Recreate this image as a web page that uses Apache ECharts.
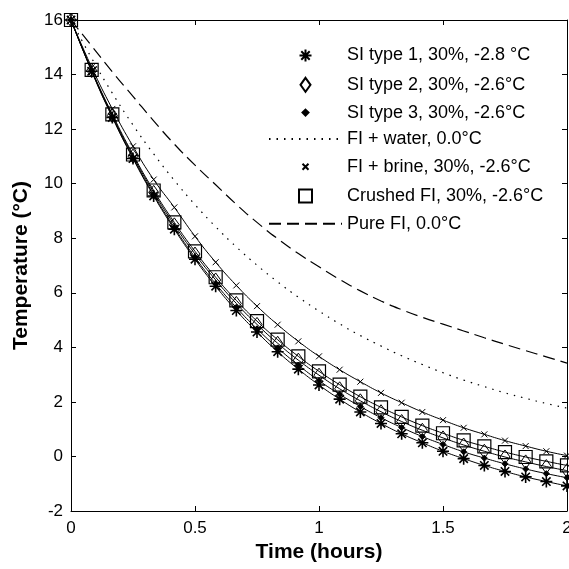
<!DOCTYPE html>
<html>
<head>
<meta charset="utf-8">
<script src="https://cdn.jsdelivr.net/npm/echarts@6/dist/echarts.min.js"></script>
<style>html,body{margin:0;padding:0;background:#fff;}#c{width:569px;height:569px;}</style>
</head>
<body>
<div id="c"></div>
<script>
// Time in hours (5-minute steps)
const time = [0, 0.0833, 0.1667, 0.25, 0.3333, 0.4167, 0.5, 0.5833, 0.6667, 0.75, 0.8333, 0.9167, 1.0,
              1.0833, 1.1667, 1.25, 1.3333, 1.4167, 1.5, 1.5833, 1.6667, 1.75, 1.8333, 1.9167, 2.0];
const siType1 = [16.00, 14.12, 12.43, 10.92, 9.55, 8.33, 7.23, 6.24, 5.35, 4.56, 3.84, 3.20, 2.62,
                 2.10, 1.63, 1.21, 0.83, 0.50, 0.19, -0.08, -0.33, -0.55, -0.75, -0.92, -1.08];
const siType2 = [16.00, 14.15, 12.50, 11.01, 9.68, 8.49, 7.42, 6.47, 5.61, 4.84, 4.15, 3.53, 2.98,
                 2.48, 2.04, 1.64, 1.28, 0.96, 0.68, 0.42, 0.19, -0.02, -0.20, -0.37, -0.52];
const siType3 = [16.00, 14.13, 12.45, 10.95, 9.60, 8.39, 7.30, 6.33, 5.46, 4.68, 3.98, 3.35, 2.78,
                 2.28, 1.83, 1.42, 1.06, 0.73, 0.44, 0.17, -0.06, -0.27, -0.46, -0.63, -0.78];
const fiWater = [16.00, 14.60, 13.32, 12.15, 11.09, 10.12, 9.23, 8.42, 7.68, 7.01, 6.40, 5.84, 5.33,
                 4.86, 4.43, 4.05, 3.69, 3.37, 3.07, 2.80, 2.56, 2.33, 2.13, 1.94, 1.77];
const fiBrine = [16.00, 14.27, 12.74, 11.37, 10.15, 9.13, 8.07, 7.12, 6.27, 5.51, 4.83, 4.22, 3.67,
                 3.18, 2.74, 2.33, 1.97, 1.63, 1.33, 1.05, 0.81, 0.58, 0.38, 0.19, 0.03];
const crushedFi = [16.00, 14.17, 12.54, 11.07, 9.75, 8.58, 7.52, 6.57, 5.72, 4.96, 4.28, 3.67, 3.12,
                   2.63, 2.19, 1.80, 1.45, 1.13, 0.85, 0.59, 0.37, 0.16, -0.02, -0.18, -0.33];
const pureFi = [16.00, 15.05, 14.10, 13.20, 12.30, 11.45, 10.68, 9.96, 9.24, 8.58, 7.98, 7.44, 6.95,
                6.49, 6.07, 5.70, 5.38, 5.10, 4.85, 4.60, 4.35, 4.11, 3.88, 3.65, 3.42];

const names = ['SI type 1, 30%, -2.8 °C', 'SI type 2, 30%, -2.6°C', 'SI type 3, 30%, -2.6°C',
               'FI + water, 0.0°C', 'FI + brine, 30%, -2.6°C', 'Crushed FI, 30%, -2.6°C', 'Pure FI, 0.0°C'];
const xTicks = [0, 0.5, 1, 1.5, 2];
const yTicks = [-2, 0, 2, 4, 6, 8, 10, 12, 14, 16];

function pairs(ys) { return time.map((t, i) => [t, ys[i]]); }

const PAD = 'M0,0 M16,16 ';
const sym = {
  star: 'path://' + PAD + 'M8,2 L8,14 M2,8 L14,8 M3.8,3.8 L12.2,12.2 M12.2,3.8 L3.8,12.2',
  diamond: 'path://' + PAD + 'M8,1 L13,8 L8,15 L3,8 Z',
  dot: 'path://' + PAD + 'M8,5 L11,8 L8,11 L5,8 Z',
  cross: 'path://' + PAD + 'M5,5 L11,11 M11,5 L5,11',
  square: 'path://' + PAD + 'M1.5,1.5 L14.5,1.5 L14.5,14.5 L1.5,14.5 Z'
};

function fitLine(name, ys) {
  return { name: name, type: 'line', data: pairs(ys), symbol: 'none', smooth: true, silent: true,
           lineStyle: { color: '#000', width: 1 }, z: 2 };
}
function markers(name, ys, s, filled, bw) {
  return { name: name, type: 'scatter', data: pairs(ys), symbol: s, symbolSize: 16, symbolKeepAspect: true,
           itemStyle: { color: filled ? '#000' : 'none', borderColor: '#000', borderWidth: bw, opacity: 1 }, z: 3 };
}
function styledLine(name, ys, dash) {
  return { name: name, type: 'line', data: pairs(ys), symbol: 'none', smooth: true,
           lineStyle: { color: '#000', width: 1.2, type: dash },
           itemStyle: { color: 'rgba(0,0,0,0)', borderWidth: 0 } };
}

const font = 'Liberation Sans, Arial, sans-serif';
const tickStyle = { show: true, inside: true, length: 5, lineStyle: { color: '#000' } };
const lineAx = { show: true, onZero: false, lineStyle: { color: '#000', width: 1 } };
const option = {
  animation: false,
  backgroundColor: '#fff',
  grid: { left: 71, right: 2, top: 20, bottom: 58, outerBoundsMode: 'none', show: false },
  legend: {
    orient: 'vertical', left: 263, top: 40, itemWidth: 73, itemHeight: 16, itemGap: 8.3,
    data: names, selectedMode: false,
    textStyle: { fontFamily: font, fontSize: 18, color: '#000' }
  },
  xAxis: [
    { type: 'value', min: 0, max: 2, interval: 0.5, position: 'bottom',
      name: 'Time (hours)', nameLocation: 'middle', nameGap: 27,
      nameTextStyle: { fontFamily: font, fontSize: 21, fontWeight: 'bold', color: '#000' },
      axisLine: lineAx, axisTick: tickStyle,
      axisLabel: { fontFamily: font, fontSize: 17, color: '#000', margin: 9,
                   formatter: v => xTicks.includes(v) ? String(v) : '' },
      splitLine: { show: false } },
    { type: 'value', min: 0, max: 2, interval: 0.5, position: 'top',
      axisLine: lineAx, axisTick: tickStyle,
      axisLabel: { show: false }, splitLine: { show: false } }
  ],
  yAxis: [
    { type: 'value', min: -2, max: 16, interval: 2, position: 'left',
      name: 'Temperature (°C)', nameLocation: 'middle', nameGap: 39, nameRotate: 90,
      nameTextStyle: { fontFamily: font, fontSize: 21, fontWeight: 'bold', color: '#000' },
      axisLine: lineAx, axisTick: tickStyle,
      axisLabel: { fontFamily: font, fontSize: 17, color: '#000', margin: 8,
                   formatter: v => yTicks.includes(v) ? String(v) : '' },
      splitLine: { show: false } },
    { type: 'value', min: -2, max: 16, interval: 2, position: 'right',
      axisLine: lineAx, axisTick: tickStyle,
      axisLabel: { show: false }, splitLine: { show: false } }
  ],
  series: [
    fitLine('fit1', siType1), fitLine('fit2', siType2), fitLine('fit3', siType3),
    fitLine('fit5', fiBrine), fitLine('fit6', crushedFi),
    markers(names[0], siType1, sym.star, false, 1.6),
    markers(names[1], siType2, sym.diamond, false, 1),
    markers(names[2], siType3, sym.dot, true, 1),
    styledLine(names[3], fiWater, [1.5, 6]),
    markers(names[4], fiBrine, sym.cross, false, 1),
    markers(names[5], crushedFi, sym.square, false, 1.2),
    styledLine(names[6], pureFi, [12, 6])
  ]
};
echarts.init(document.getElementById('c'), null, { renderer: 'canvas' }).setOption(option);
</script>
</body>
</html>
